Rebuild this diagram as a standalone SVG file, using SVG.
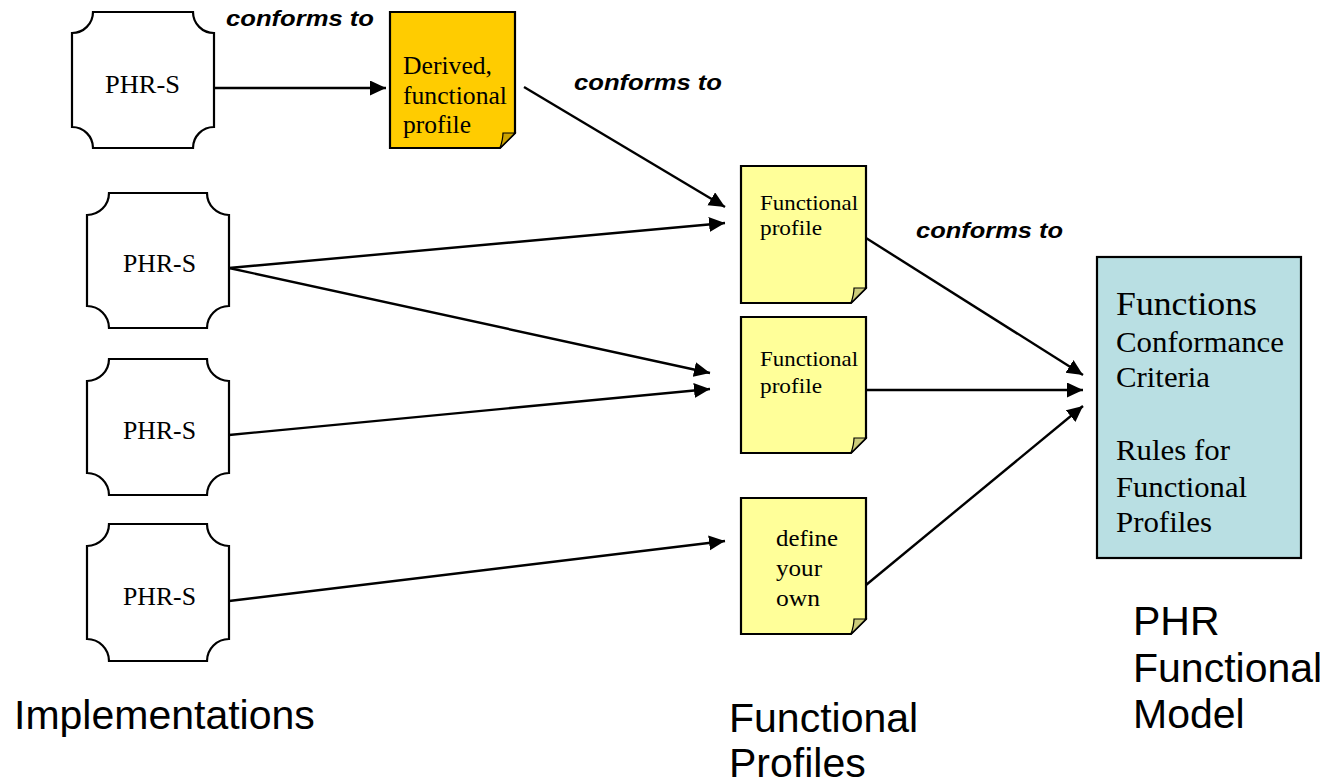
<svg xmlns="http://www.w3.org/2000/svg" width="1329" height="784" viewBox="0 0 1329 784">
<style>
.phr{fill:#fff;stroke:#000;stroke-width:2.2}
.note{stroke:#000;stroke-width:2.2}
.y{fill:#FFFF99}
.g{fill:#FFCC00}
.fy{fill:#CCCC7A;stroke:#000;stroke-width:1.2}
.fg{fill:#CCA300;stroke:#000;stroke-width:1.2}
.t{font-family:"Liberation Serif","Times New Roman",serif;fill:#000}
.lab{font-family:"Liberation Sans",Arial,sans-serif;font-weight:bold;font-style:italic;font-size:22px;fill:#000}
.big{font-family:"Liberation Sans",Arial,sans-serif;font-size:41px;fill:#000}
.c{stroke:#000;stroke-width:2.4;fill:none;marker-end:url(#ah)}
</style>
<defs>
<marker id="ah" markerUnits="userSpaceOnUse" markerWidth="18" markerHeight="16" refX="16" refY="7.5" orient="auto">
<path d="M0,0 L16,7.5 L0,15 z" fill="#000"/>
</marker>
</defs>
<g id="connectors">
<line class="c" x1="214" y1="88" x2="386" y2="88"/>
<line class="c" x1="524" y1="87" x2="725" y2="207"/>
<line class="c" x1="229" y1="268" x2="725" y2="223"/>
<line class="c" x1="229" y1="268" x2="710" y2="373"/>
<line class="c" x1="229" y1="435" x2="710" y2="389"/>
<line class="c" x1="229" y1="601" x2="725" y2="541"/>
<line class="c" x1="866" y1="238" x2="1083" y2="375"/>
<line class="c" x1="866" y1="390" x2="1083" y2="390"/>
<line class="c" x1="866" y1="585" x2="1083" y2="406"/>
</g>
<g id="labels">
<text class="lab" x="226" y="26" textLength="148" lengthAdjust="spacingAndGlyphs">conforms to</text>
<text class="lab" x="574" y="90" textLength="148" lengthAdjust="spacingAndGlyphs">conforms to</text>
<text class="lab" x="916" y="238" textLength="147" lengthAdjust="spacingAndGlyphs">conforms to</text>
</g>
<g id="phr1">
<path class="phr" d="M93,12 H193 A21,21 0 0 0 214,33 V127 A21,21 0 0 0 193,148 H93 A21,21 0 0 0 72,127 V33 A21,21 0 0 0 93,12 Z"/>
<text class="t" x="105" y="93" font-size="25" textLength="75" lengthAdjust="spacingAndGlyphs">PHR-S</text>
</g>
<g id="phr2">
<path class="phr" d="M109,193 H207 A22,22 0 0 0 229,215 V306 A22,22 0 0 0 207,328 H109 A22,22 0 0 0 87,306 V215 A22,22 0 0 0 109,193 Z"/>
<text class="t" x="123" y="272" font-size="25" textLength="73" lengthAdjust="spacingAndGlyphs">PHR-S</text>
</g>
<g id="phr3">
<path class="phr" d="M109,359 H207 A22,22 0 0 0 229,381 V473 A22,22 0 0 0 207,495 H109 A22,22 0 0 0 87,473 V381 A22,22 0 0 0 109,359 Z"/>
<text class="t" x="123" y="439" font-size="25" textLength="73" lengthAdjust="spacingAndGlyphs">PHR-S</text>
</g>
<g id="phr4">
<path class="phr" d="M109,524 H207 A22,22 0 0 0 229,546 V639 A22,22 0 0 0 207,661 H109 A22,22 0 0 0 87,639 V546 A22,22 0 0 0 109,524 Z"/>
<text class="t" x="123" y="605" font-size="25" textLength="73" lengthAdjust="spacingAndGlyphs">PHR-S</text>
</g>
<g id="derived">
<path class="note g" d="M390,12 H515 V133 L500,148 H390 Z"/>
<path class="fg" d="M500,148 C502,142 503,137 503,133 L515,133 Z"/>
<text class="t" x="403" y="74" font-size="25" textLength="89" lengthAdjust="spacingAndGlyphs">Derived,</text>
<text class="t" x="403" y="104" font-size="25" textLength="104" lengthAdjust="spacingAndGlyphs">functional</text>
<text class="t" x="403" y="133" font-size="25" textLength="68" lengthAdjust="spacingAndGlyphs">profile</text>
</g>
<g id="fp1">
<path class="note y" d="M741,166 H866 V288 L851,303 H741 Z"/>
<path class="fy" d="M851,303 C853,297 854,292 854,288 L866,288 Z"/>
<text class="t" x="760" y="210" font-size="22" textLength="98" lengthAdjust="spacingAndGlyphs">Functional</text>
<text class="t" x="760" y="235" font-size="22" textLength="62" lengthAdjust="spacingAndGlyphs">profile</text>
</g>
<g id="fp2">
<path class="note y" d="M741,317 H866 V438 L851,453 H741 Z"/>
<path class="fy" d="M851,453 C853,447 854,442 854,438 L866,438 Z"/>
<text class="t" x="760" y="366" font-size="22" textLength="98" lengthAdjust="spacingAndGlyphs">Functional</text>
<text class="t" x="760" y="393" font-size="22" textLength="62" lengthAdjust="spacingAndGlyphs">profile</text>
</g>
<g id="fp3">
<path class="note y" d="M741,498 H866 V619 L851,634 H741 Z"/>
<path class="fy" d="M851,634 C853,628 854,623 854,619 L866,619 Z"/>
<text class="t" x="776" y="546" font-size="23" textLength="62" lengthAdjust="spacingAndGlyphs">define</text>
<text class="t" x="776" y="576" font-size="23" textLength="46" lengthAdjust="spacingAndGlyphs">your</text>
<text class="t" x="776" y="606" font-size="23" textLength="44" lengthAdjust="spacingAndGlyphs">own</text>
</g>
<g id="model">
<rect x="1097" y="257" width="204" height="301" fill="#B9DFE3" stroke="#000" stroke-width="2.2"/>
<text class="t" x="1116" y="315" font-size="33" textLength="141" lengthAdjust="spacingAndGlyphs">Functions</text>
<text class="t" x="1116" y="352" font-size="29" textLength="168" lengthAdjust="spacingAndGlyphs">Conformance</text>
<text class="t" x="1116" y="387" font-size="29" textLength="94" lengthAdjust="spacingAndGlyphs">Criteria</text>
<text class="t" x="1116" y="460" font-size="29" textLength="114" lengthAdjust="spacingAndGlyphs">Rules for</text>
<text class="t" x="1116" y="497" font-size="29" textLength="131" lengthAdjust="spacingAndGlyphs">Functional</text>
<text class="t" x="1116" y="532" font-size="29" textLength="96" lengthAdjust="spacingAndGlyphs">Profiles</text>
</g>
<g id="captions">
<text class="big" x="14" y="729">Implementations</text>
<text class="big" x="729" y="732">Functional</text>
<text class="big" x="729" y="777">Profiles</text>
<text class="big" x="1133" y="635">PHR</text>
<text class="big" x="1133" y="682">Functional</text>
<text class="big" x="1133" y="728">Model</text>
</g>
</svg>
